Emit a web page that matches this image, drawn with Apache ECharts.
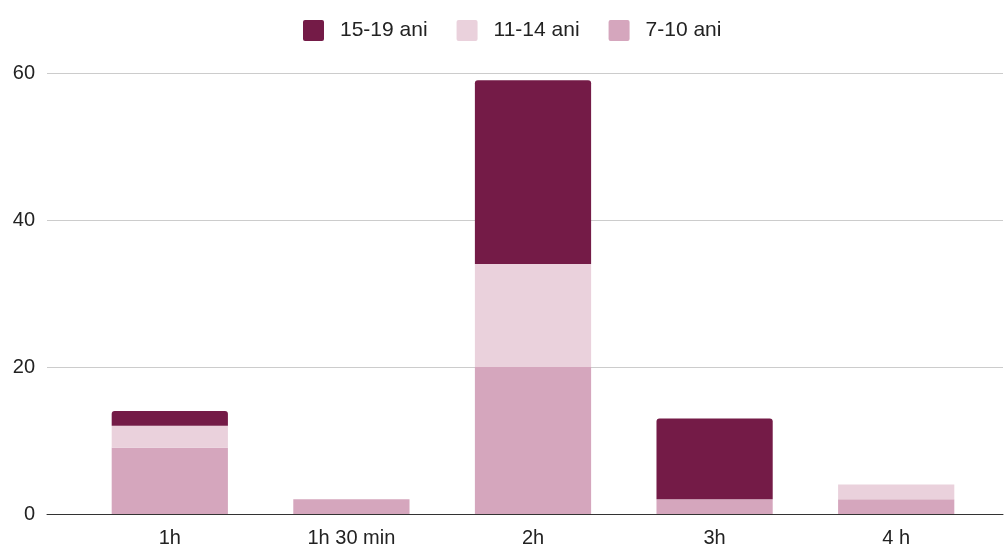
<!DOCTYPE html>
<html>
<head>
<meta charset="utf-8">
<script src="https://cdn.jsdelivr.net/npm/echarts@6/dist/echarts.min.js"></script>
<style>html,body{margin:0;padding:0;background:#fff}#c{width:1005px;height:545px}</style>
</head>
<body>
<div id="c"></div>
<script>
const categories = ['1h', '1h 30 min', '2h', '3h', '4 h'];
const ages7to10 = [9, 2, 20, 2, 2];
const ages11to14 = [3, 0, 14, 0, 2];
const ages15to19 = [2, 0, 25, 11, 0];
const yTicks = [0, 20, 40, 60];

const font = '"Liberation Sans", Arial, sans-serif';
const chart = echarts.init(document.getElementById('c'));
chart.setOption({
  animation: false,
  textStyle: { fontFamily: font },
  legend: {
    top: 15, left: 298,
    data: ['15-19 ani', '11-14 ani', '7-10 ani'],
    itemWidth: 21, itemHeight: 21, itemGap: 29,
    icon: 'path://M2,0 L19,0 Q21,0 21,2 L21,19 Q21,21 19,21 L2,21 Q0,21 0,19 L0,2 Q0,0 2,0 Z',
    textStyle: { fontSize: 21, color: '#222', fontFamily: font, padding: [0, 0, 0, 11] }
  },
  grid: [
    { left: 79, right: 18, top: 73, bottom: 31, containLabel: false, outerBoundsMode: 'none' },
    { left: 47, right: 2, top: 73, bottom: 31, containLabel: false, outerBoundsMode: 'none' }
  ],
  xAxis: [
    {
      type: 'category', gridIndex: 0, data: categories,
      axisLine: { show: false }, axisTick: { show: false },
      axisLabel: { fontSize: 20, color: '#222', margin: 14, fontFamily: font }
    },
    {
      type: 'value', gridIndex: 1, min: 0, max: 1,
      axisLine: { show: true, onZero: false, lineStyle: { color: '#333', width: 1 } },
      axisTick: { show: false }, axisLabel: { show: false }, splitLine: { show: false }
    }
  ],
  yAxis: [
    { type: 'value', gridIndex: 0, min: yTicks[0], max: yTicks[yTicks.length - 1], interval: 20, show: false },
    {
      type: 'value', gridIndex: 1, min: yTicks[0], max: yTicks[yTicks.length - 1], interval: 20,
      axisLine: { show: false }, axisTick: { show: false },
      axisLabel: { fontSize: 20, color: '#222', margin: 12, fontFamily: font },
      splitLine: { lineStyle: { color: '#cccccc', width: 1 } }
    }
  ],
  series: [
    { name: '7-10 ani', type: 'bar', stack: 's', data: ages7to10, barWidth: '64%',
      itemStyle: { color: '#d5a6bd' } },
    { name: '11-14 ani', type: 'bar', stack: 's', data: ages11to14, barWidth: '64%',
      itemStyle: { color: '#ead1dc' } },
    { name: '15-19 ani', type: 'bar', stack: 's', data: ages15to19, barWidth: '64%',
      itemStyle: { color: '#741b47', borderRadius: [3, 3, 0, 0] } }
  ]
});
</script>
</body>
</html>
